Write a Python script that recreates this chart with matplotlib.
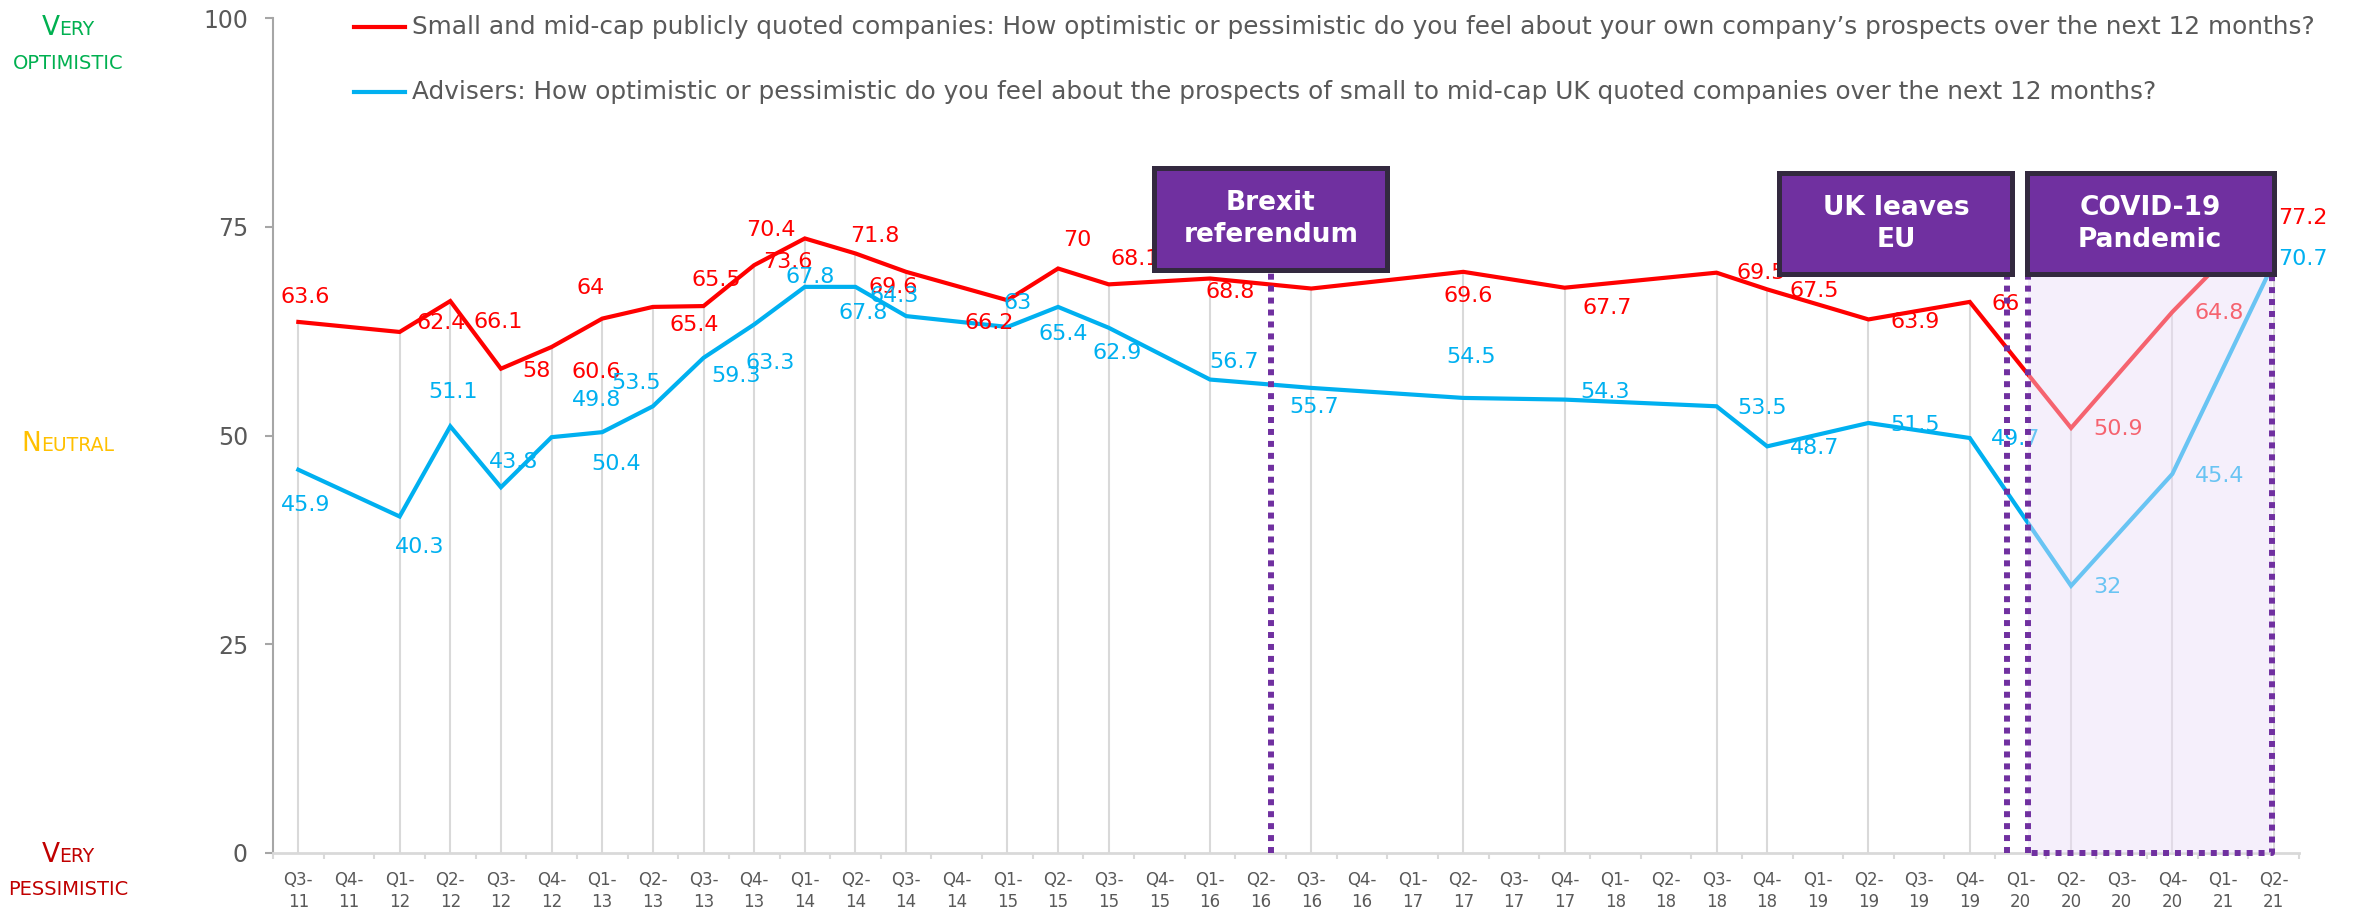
import numpy as np
import matplotlib
matplotlib.use("Agg")
import matplotlib.pyplot as plt
from matplotlib.patches import Rectangle
from matplotlib.lines import Line2D

nan = np.nan

quarters = ["Q3-11", "Q4-11", "Q1-12", "Q2-12", "Q3-12", "Q4-12", "Q1-13", "Q2-13",
            "Q3-13", "Q4-13", "Q1-14", "Q2-14", "Q3-14", "Q4-14", "Q1-15", "Q2-15",
            "Q3-15", "Q4-15", "Q1-16", "Q2-16", "Q3-16", "Q4-16", "Q1-17", "Q2-17",
            "Q3-17", "Q4-17", "Q1-18", "Q2-18", "Q3-18", "Q4-18", "Q1-19", "Q2-19",
            "Q3-19", "Q4-19", "Q1-20", "Q2-20", "Q3-20", "Q4-20", "Q1-21", "Q2-21"]

companies = [63.6, nan, 62.4, 66.1, 58, 60.6, 64, 65.4, 65.5, 70.4, 73.6, 71.8, 69.6, nan,
             66.2, 70, 68.1, nan, 68.8, nan, 67.6, nan, nan, 69.6, nan, 67.7, nan, nan,
             69.5, 67.5, nan, 63.9, nan, 66, nan, 50.9, nan, 64.8, nan, 77.2]

advisers = [45.9, nan, 40.3, 51.1, 43.8, 49.8, 50.4, 53.5, 59.3, 63.3, 67.8, 67.8, 64.3, nan,
            63, 65.4, 62.9, nan, 56.7, nan, 55.7, nan, nan, 54.5, nan, 54.3, nan, nan,
            53.5, 48.7, nan, 51.5, nan, 49.7, nan, 32, nan, 45.4, nan, 70.7]

companies_label = ("Small and mid-cap publicly quoted companies: How optimistic or pessimistic "
                   "do you feel about your own company\u2019s prospects over the next 12 months?")
advisers_label = ("Advisers: How optimistic or pessimistic do you feel about the prospects of "
                  "small to mid-cap UK quoted companies over the next 12 months?")

# label offsets in pixels (dx, dy downwards), one per plotted point
companies_off = [(7, -25), (42, -9), (48, 21), (36, 2), (45, 25), (-12, -31), (41, 18),
                 (13, -26), (17, -35), (-17, 24), (19, -17), (-13, 15), (-18, 23), (19, -28),
                 (26, -25), (20, 13), (3, -27), (5, 24), (43, 20), (45, 0), (47, 2), (47, 3),
                 (36, 2), (47, 1), (47, 1), (29, 10)]
advisers_off = [(7, 35), (20, 31), (3, -34), (13, -25), (45, -37), (14, 32), (-17, -23),
                (33, 18), (16, 39), (5, -10), (8, 26), (-12, -20), (10, -24), (5, 27), (8, 25),
                (24, -18), (3, 19), (8, -41), (40, -8), (46, 2), (47, 2), (47, 2), (46, 1),
                (36, 1), (47, 2), (29, -4)]

RED = "#FF0000"
BLUE = "#00B0F0"
PURPLE = "#7030A0"
GREY = "#595959"

W, H = 2353, 909
fig = plt.figure(figsize=(W / 100, H / 100), dpi=100)
ax = fig.add_axes([273 / W, 56 / H, (2299 - 273) / W, (853 - 18) / H])

x = np.arange(len(quarters))
comp = np.array(companies, dtype=float)
adv = np.array(advisers, dtype=float)
mc = ~np.isnan(comp)
ma = ~np.isnan(adv)

# drop lines
top = np.fmax(comp, adv)
mt = ~np.isnan(top)
ax.vlines(x[mt], 0, top[mt], color="#D9D9D9", lw=1.5, zorder=1)

ax.plot(x[mc], comp[mc], color=RED, lw=3, zorder=3, solid_joinstyle="miter")
ax.plot(x[ma], adv[ma], color=BLUE, lw=3, zorder=3, solid_joinstyle="miter")

for xs, vs, offs, col in [(x[mc], comp[mc], companies_off, RED),
                          (x[ma], adv[ma], advisers_off, BLUE)]:
    for xi, v, (dx, dy) in zip(xs, vs, offs):
        ax.annotate(f"{v:g}", (xi, v), xytext=(dx, -dy), textcoords="offset pixels",
                    ha="center", va="center", fontsize=16, color=col, zorder=4)

# COVID shaded period
x0, x1, ytop = 34.14, 38.97, 69.3
ax.add_patch(Rectangle((x0, 0), x1 - x0, ytop, facecolor="#EBDDF7", alpha=0.45,
                       edgecolor="none", zorder=5))
dots = dict(color=PURPLE, lw=4.3, linestyle=(0, (1, 1)), zorder=6, clip_on=False,
            dash_capstyle="butt")
ax.plot([x0, x0, x1, x1, x0], [0, ytop, ytop, 0, 0], **dots)
ax.plot([19.2, 19.2], [0, 69.8], **dots)
ax.plot([33.73, 33.73], [0, 69.3], **dots)

boxes = [(16.9, 21.5, 69.8, 82.0, "Brexit\nreferendum"),
         (29.24, 33.84, 69.3, 81.4, "UK leaves\nEU"),
         (34.12, 39.0, 69.3, 81.4, "COVID-19\nPandemic")]
for bx0, bx1, by0, by1, txt in boxes:
    ax.add_patch(Rectangle((bx0, by0), bx1 - bx0, by1 - by0, facecolor=PURPLE,
                           edgecolor="#33293F", lw=3.6, zorder=7, clip_on=False))
    ax.text((bx0 + bx1) / 2, (by0 + by1) / 2, txt, ha="center", va="center",
            color="white", fontsize=19, fontweight="bold", linespacing=1.3, zorder=8)

ax.set_xlim(-0.5, 39.5)
ax.set_ylim(0, 100)
for s in ["top", "right"]:
    ax.spines[s].set_visible(False)
ax.spines["left"].set_color("#A6A6A6")
ax.spines["left"].set_linewidth(1.5)
ax.spines["bottom"].set_color("#D9D9D9")
ax.spines["bottom"].set_linewidth(2)

ax.set_yticks([0, 25, 50, 75, 100])
ax.tick_params(axis="y", length=6, width=1.5, color="#A6A6A6", pad=12,
               labelsize=17, labelcolor=GREY)
ax.set_xticks(x)
ax.set_xticklabels([q.replace("-", "-\n") for q in quarters])
ax.set_xticks(np.arange(-0.5, 40, 1), minor=True)
ax.tick_params(axis="x", which="major", length=0, pad=13, labelsize=12, labelcolor=GREY)
ax.tick_params(axis="x", which="minor", length=4, width=1.5, color="#D9D9D9")
for lbl in ax.get_xticklabels():
    lbl.set_linespacing(1.3)

# legend drawn by hand
r = fig.canvas.get_renderer()
leg = []
for ypx, col, label in [(27, RED, companies_label), (92, BLUE, advisers_label)]:
    fig.add_artist(Line2D([354 / W, 405 / W], [1 - ypx / H, 1 - ypx / H], color=col, lw=3))
    leg.append(fig.text(412 / W, 1 - ypx / H, label, fontsize=18, color=GREY, va="center"))
wid = leg[0].get_window_extent(r).width
for t in leg:
    t.set_fontsize(18 * 1899 / wid)


def small_caps(xc, base, big, rest, color, big_size=19, small_size=13.5):
    t1 = fig.text(0, 1 - base / H, big, fontsize=big_size, color=color, va="baseline")
    t2 = fig.text(0, 1 - base / H, rest, fontsize=small_size, color=color, va="baseline")
    w1 = t1.get_window_extent(r).width
    w2 = t2.get_window_extent(r).width
    left = xc - (w1 + w2) / 2
    t1.set_x(left / W)
    t2.set_x((left + w1) / W)


small_caps(68, 35, "V", "ERY", "#00B050")
fig.text(68 / W, 1 - 69 / H, "OPTIMISTIC", fontsize=14, color="#00B050",
         ha="center", va="baseline")
small_caps(68, 451, "N", "EUTRAL", "#FFC000")
small_caps(68, 862, "V", "ERY", "#C00000")
fig.text(68 / W, 1 - 895 / H, "PESSIMISTIC", fontsize=14, color="#C00000",
         ha="center", va="baseline")

fig.savefig("out.png", dpi=100)
